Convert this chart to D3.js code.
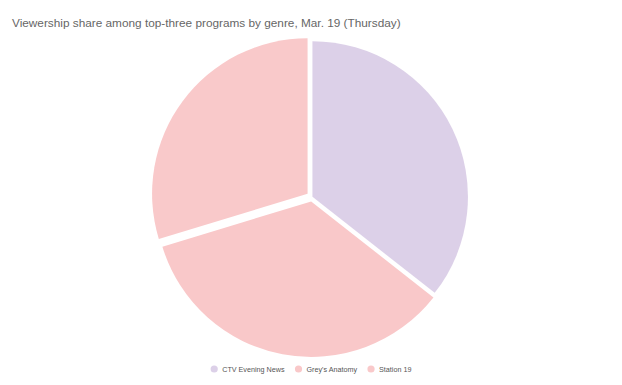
<!DOCTYPE html>
<html>
<head>
<meta charset="utf-8">
<script src="https://cdn.jsdelivr.net/npm/d3@7"></script>
<style>
  body { margin: 0; background: #fff; }
  svg { display: block; }
</style>
</head>
<body>
<svg id="chart" width="622" height="385"></svg>
<script>
// data (share of viewers, %)
var programs = ["CTV Evening News", "Grey's Anatomy", "Station 19"]
var shares = [35.6, 34.7, 29.7]
var colors = ["#dcd0e8", "#f9c8c9", "#f9c9ca"]
var explode = [0.5, 4.5, 5.5] // how far each slice is pulled out

var svg = d3.select("#chart"),
    width = +svg.attr("width"),
    height = +svg.attr("height"),
    cx = 312, cy = 197,
    radius = 155.5

svg.append("text")
  .attr("x", 12)
  .attr("y", 26.5)
  .attr("font-family", "Liberation Sans, Arial, sans-serif")
  .attr("font-size", "11.8px")
  .attr("fill", "#666")
  .text("Viewership share among top-three programs by genre, Mar. 19 (Thursday)")

var pie = d3.pie().sort(null).value(function(d) { return d; })
var arc = d3.arc().innerRadius(0).outerRadius(radius)
var arcs = pie(shares)

var g = svg.append("g").attr("transform", "translate(" + cx + "," + cy + ")")

g.selectAll("path")
  .data(arcs)
  .enter().append("path")
    .attr("d", arc)
    .attr("fill", function(d, i) { return colors[i]; })
    .attr("transform", function(d, i) {
      var a = (d.startAngle + d.endAngle) / 2
      return "translate(" + (Math.sin(a) * explode[i]) + "," + (-Math.cos(a) * explode[i]) + ")"
    })

// legend along the bottom, centred
var legend = svg.append("g")
var xpos = 0
var items = legend.selectAll("g")
  .data(programs)
  .enter().append("g")

items.append("circle")
  .attr("r", 3.6)
  .attr("cy", 0)
  .attr("fill", function(d, i) { return colors[i]; })

items.append("text")
  .attr("x", 8)
  .attr("y", 2.7)
  .attr("font-family", "Liberation Sans, Arial, sans-serif")
  .attr("font-size", "7.2px")
  .attr("fill", "#555")
  .text(function(d) { return d; })

items.each(function() {
  var w = this.getBBox().width
  d3.select(this).attr("transform", "translate(" + xpos + ",0)")
  xpos += w + 10
})
xpos -= 10
legend.attr("transform", "translate(" + (311 - xpos / 2 + 3.6) + ",369)")
</script>
</body>
</html>
